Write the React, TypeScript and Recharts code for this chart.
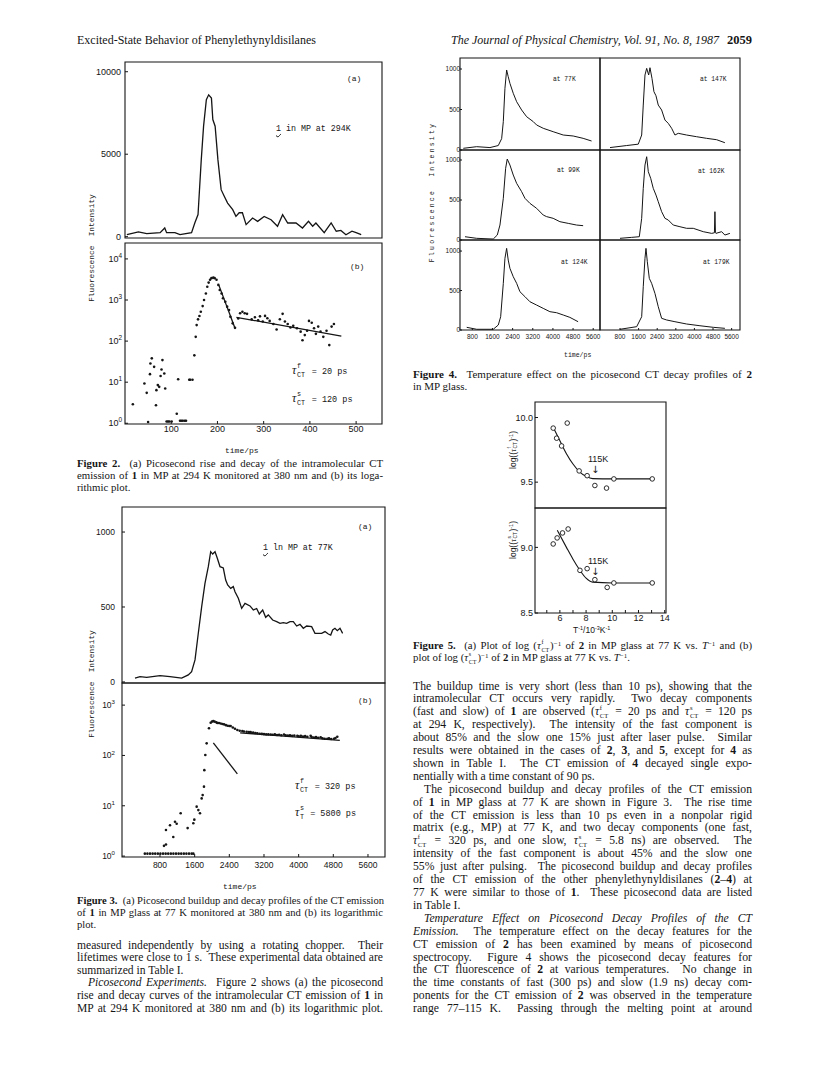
import React from "react";
import { ComposedChart, Line, Scatter, XAxis, YAxis, ReferenceArea } from "recharts";

type Pt = [number, number];

const INK = "#151515";
const SERIF = '"Liberation Serif", "Times New Roman", serif';
const SANS = '"Liberation Sans", Arial, sans-serif';
const MONO = '"Liberation Mono", "DejaVu Sans Mono", monospace';

// ---------- Figure 2: 1 in MP at 294 K ----------
const fig2XTicks = [100, 200, 300, 400, 500];
const fig2LinTicks = [0, 5000, 10000];
const fig2LogTicks = [1, 10, 100, 1000, 10000];
const fig2Trace: Pt[] = [
  [4, 120], [29, 285], [47, 180], [76, 240], [86, 525], [90, 240], [108, 240], [119, 120],
  [144, 240], [151, 830], [158, 1340], [165, 4670], [170, 6700], [176, 8300], [181, 8600],
  [187, 8400], [190, 7100], [195, 6700], [201, 4670], [208, 2850], [215, 2440], [222, 2040],
  [233, 1640], [240, 1230], [247, 1450], [254, 1450], [262, 730], [276, 1130], [287, 930],
  [301, 1230], [316, 1030], [330, 630], [341, 1330], [352, 830], [370, 830], [384, 525],
  [397, 930], [406, 630], [413, 830], [431, 240], [446, 830], [457, 330], [467, 380],
  [478, 120], [491, 330], [500, 240], [511, 120],
];
const fig2Dots: Pt[] = [
  [17, 2.9], [42, 9.3], [47, 5.5], [50, 1.07], [54, 15.7], [55, 28.6], [58, 38], [63, 23.6],
  [67, 2.75], [68, 6.4], [71, 8.5], [74, 7.7], [77, 14.2], [79, 20.4], [81, 34.5], [85, 16.3],
  [87, 7], [90, 1.1], [93, 1.1], [96, 1.1], [101, 1.1], [112, 1.7], [115, 11.8], [119, 1.15],
  [122, 1.15], [125, 1.15], [129, 1.15], [132, 1.15], [139, 11.5], [141, 11.5], [146, 11.5],
  [150, 45], [153, 127], [155, 245], [158, 338], [161, 407], [164, 517], [168, 710],
  [171, 1000], [175, 1440], [178, 2100], [181, 2650], [184, 3100], [187, 3400], [191, 3500],
  [194, 3400], [198, 3100], [202, 2330], [205, 1750], [209, 1440], [212, 1100], [217, 910],
  [221, 690], [225, 570], [228, 390], [233, 270], [238, 210], [245, 355], [249, 475],
  [254, 517], [259, 475], [264, 460], [274, 338], [281, 380], [288, 320], [292, 400],
  [298, 300], [303, 410], [308, 360], [313, 310], [321, 260], [328, 192], [335, 340],
  [341, 460], [346, 300], [352, 260], [358, 215], [364, 235], [372, 205], [380, 170],
  [384, 105], [389, 140], [394, 178], [398, 310], [404, 280], [409, 205], [413, 150],
  [418, 225], [423, 170], [429, 127], [436, 178], [442, 80], [447, 225], [452, 260],
];
const fig2FastFit: Pt[] = [[203, 2300], [238, 205]];
const fig2SlowFit: Pt[] = [[241, 380], [468, 132]];

// ---------- Figure 3: 1 in MP glass at 77 K ----------
const fig3XTicks = [800, 1600, 2400, 3200, 4000, 4800, 5600];
const fig3LinTicks = [0, 500, 1000];
const fig3LogTicks = [1, 10, 100, 1000];
const fig3Trace: Pt[] = [
  [223, 25], [338, 35], [493, 31], [800, 42], [1031, 35], [1300, 25], [1453, 47], [1530, 69],
  [1608, 147], [1684, 325], [1762, 502], [1838, 658], [1915, 769], [1970, 869], [2016, 853],
  [2070, 869], [2123, 825], [2185, 769], [2261, 760], [2316, 680], [2362, 647], [2431, 624],
  [2492, 636], [2531, 602], [2608, 558], [2685, 491], [2762, 524], [2877, 507], [2954, 480],
  [3031, 490], [3092, 453], [3170, 480], [3239, 431], [3300, 447], [3400, 413], [3493, 402],
  [3570, 391], [3646, 395], [3723, 391], [3800, 402], [3877, 402], [3954, 373], [4031, 384],
  [4108, 358], [4185, 373], [4300, 369], [4377, 324], [4454, 324], [4531, 324], [4608, 336],
  [4685, 320], [4740, 313], [4785, 347], [4838, 358], [4892, 342], [4954, 358], [5015, 324],
];
const fig3Dots: Pt[] = [
  [450, 1.12], [510, 1.12], [570, 1.12], [630, 1.12], [690, 1.12], [750, 1.12], [810, 1.12],
  [870, 1.12], [930, 1.12], [990, 1.12], [1050, 1.12], [1110, 1.12], [1170, 1.12], [1230, 1.12],
  [1290, 1.12], [1350, 1.12], [1410, 1.12], [1470, 1.12], [1530, 1.12], [1570, 1.12],
  [892, 1.6], [938, 1.7], [938, 3.3], [1031, 4.1], [1107, 2.4], [1146, 4.8], [1185, 4.4],
  [1277, 7.1], [1438, 3.6], [1569, 4.5], [1592, 5.3], [1646, 9.6], [1685, 8.2], [1723, 7.1],
  [1762, 14], [1785, 16.3], [1815, 24], [1823, 51], [1846, 102], [1877, 174], [1931, 347],
  [1970, 447], [2000, 470], [2030, 480], [2060, 470], [2100, 455], [2123, 440], [2160, 440],
  [2200, 430], [2240, 420], [2277, 415], [2320, 400], [2360, 390], [2400, 385], [2431, 385],
  [2480, 360], [2530, 340], [2585, 320], [2640, 310], [2700, 305], [2738, 300], [2800, 295],
  [2850, 292], [2893, 290], [2950, 285], [3000, 278], [3046, 275], [3100, 270], [3150, 268],
  [3200, 265], [3250, 262], [3300, 262], [3354, 260], [3400, 258], [3450, 262], [3500, 255],
  [3550, 258], [3600, 252], [3662, 260], [3700, 250], [3750, 248], [3800, 252], [3850, 245],
  [3900, 248], [3970, 245], [4000, 240], [4050, 245], [4100, 238], [4150, 242], [4200, 235],
  [4277, 245], [4300, 232], [4350, 228], [4400, 232], [4450, 225], [4508, 230], [4550, 220],
  [4600, 215], [4662, 215], [4700, 218], [4750, 212], [4815, 215], [4850, 222], [4892, 235],
];
const fig3FastFit: Pt[] = [[2031, 178], [2585, 43]];
const fig3SlowFit: Pt[] = [[2650, 282], [4950, 200]];

// ---------- Figure 4: 2 in MP glass, six temperatures ----------
const fig4XTicks = [800, 1600, 2400, 3200, 4000, 4800, 5600];
const fig4YTicks = [0, 500, 1000];
const fig4Temps = ["77K", "147K", "99K", "162K", "124K", "179K"];
const fig4At77: Pt[] = [
  [441, 21], [972, 41], [1500, 30], [1830, 55], [1964, 140], [2030, 350], [2095, 762],
  [2162, 988], [2225, 905], [2293, 823], [2425, 700], [2560, 596], [2758, 494], [2956, 411],
  [3220, 350], [3352, 309], [3615, 268], [4010, 226], [4410, 185], [4805, 173], [5200, 144],
  [5535, 111],
];
const fig4At147: Pt[] = [
  [370, 30], [1087, 55], [1586, 72], [1732, 185], [1800, 555], [1874, 926], [1947, 1008],
  [2033, 926], [2089, 1016], [2175, 885], [2260, 720], [2347, 670], [2445, 555], [2590, 494],
  [2733, 370], [2875, 329], [3020, 268], [3163, 185], [3305, 206], [3665, 185], [4095, 164],
  [4525, 144], [4955, 127], [5310, 90],
];
const fig4At99: Pt[] = [
  [508, 41], [972, 21], [1630, 12], [1790, 62], [1897, 187], [2030, 521], [2122, 896],
  [2186, 1012], [2293, 937], [2425, 812], [2560, 708], [2758, 604], [2890, 521], [3088, 458],
  [3352, 396], [3615, 312], [3750, 292], [4010, 271], [4277, 229], [4608, 208], [4938, 187],
  [5200, 179],
];
const fig4At162: Pt[] = [
  [800, 21], [1302, 33], [1630, 41], [1732, 271], [1800, 646], [1874, 937], [1947, 1041],
  [2017, 854], [2120, 771], [2230, 646], [2347, 562], [2445, 479], [2590, 354], [2733, 271],
  [2875, 250], [3090, 187], [3378, 166], [3665, 146], [3950, 146], [4380, 104], [4740, 83],
  [4860, 90], [4882, 354], [4905, 90], [4925, 83], [5170, 104], [5310, 62], [5525, 83],
];
const fig4At124: Pt[] = [
  [576, 34], [972, 9], [1630, 9], [1830, 63], [1925, 168], [2030, 591], [2095, 908],
  [2162, 1034], [2225, 886], [2293, 781], [2425, 675], [2560, 591], [2690, 485], [2890, 422],
  [3088, 358], [3352, 316], [3615, 274], [3880, 232], [4145, 219], [4410, 190], [4673, 160],
  [5000, 105],
];
const fig4At179: Pt[] = [
  [800, 9], [1517, 42], [1732, 168], [1800, 548], [1874, 908], [1917, 1034], [1975, 865],
  [2060, 654], [2160, 591], [2303, 464], [2445, 295], [2590, 148], [2805, 127], [3163, 105],
  [3665, 76], [4238, 54], [4810, 34], [5310, 21],
];

// ---------- Figure 5: log(1/tau) vs 1/T ----------
const fig5XTicks = [5, 6, 7, 8, 9, 10, 11, 12, 13, 14];
const fig5aYTicks = [9.5, 10.0];
const fig5bYTicks = [8.5, 9.0];
const fig5aPoints: Pt[] = [
  [5.49, 9.918], [5.75, 9.84], [6.13, 9.78], [6.56, 9.957], [7.47, 9.587], [8.08, 9.55],
  [8.67, 9.474], [9.56, 9.454], [10.12, 9.525], [13.05, 9.525],
];
const fig5aCurve: Pt[] = [
  [5.49, 9.925], [6.0, 9.82], [6.5, 9.72], [7.0, 9.64], [7.5, 9.58], [8.0, 9.545],
  [8.5, 9.527], [10.0, 9.525], [13.05, 9.525],
];
const fig5bPoints: Pt[] = [
  [5.49, 9.026], [5.79, 9.072], [6.2, 9.11], [6.63, 9.14], [7.53, 8.825], [8.08, 8.838],
  [8.67, 8.754], [9.61, 8.695], [10.12, 8.729], [13.05, 8.729],
];
const fig5bCurve: Pt[] = [
  [5.8, 9.13], [6.5, 9.0], [7.0, 8.91], [7.5, 8.83], [8.0, 8.765], [8.5, 8.735],
  [10.0, 8.729], [13.05, 8.729],
];

const rows = (pts: Pt[]) => pts.map(([t, v]) => ({ t, v }));

function PowTick(props: any) {
  const { x, y, payload, fs } = props;
  const e = Math.round(Math.log10(payload.value));
  return (
    <text x={x} y={y + fs * 0.35} textAnchor="end" fontSize={fs} fontFamily={SANS} fill={INK}>
      10
      <tspan dy={-fs * 0.45} fontSize={fs * 0.72}>
        {e}
      </tspan>
    </text>
  );
}

type PanelProps = {
  x: number;
  y: number;
  w: number;
  h: number;
  xDomain: [number, number];
  yDomain: [number, number];
  xTicks: number[];
  yTicks: number[];
  showX?: boolean;
  showY?: boolean;
  log?: boolean;
  lines?: Pt[][];
  dots?: Pt[];
  rings?: Pt[];
  smooth?: boolean;
  fs?: number;
  gapX?: number;
  gapY?: number;
  tl?: number;
  lw?: number;
  dotR?: number;
  xFmt?: (v: number) => string;
  yFmt?: (v: number) => string;
};

function Panel(p: PanelProps) {
  const yW = 46;
  const xH = 24;
  const padT = 6;
  const padR = 6;
  const fs = p.fs ?? 9;
  const tl = p.tl ?? 3;
  const font = { fontSize: fs, fill: INK, fontFamily: SANS };
  const dotR = p.dotR ?? 1.2;
  return (
    <div style={{ position: "absolute", left: p.x - yW, top: p.y - padT }}>
      <ComposedChart
        width={yW + p.w + padR}
        height={padT + p.h + xH}
        margin={{ top: padT, right: padR, bottom: 0, left: 0 }}
      >
        <XAxis
          type="number"
          dataKey="t"
          domain={p.xDomain}
          allowDataOverflow
          ticks={p.xTicks}
          interval={0}
          height={xH}
          axisLine={false}
          tickLine={{ stroke: INK }}
          tickSize={-tl}
          tickMargin={tl + (p.gapX ?? 3)}
          tick={p.showX ? font : false}
          tickFormatter={p.xFmt}
        />
        <YAxis
          type="number"
          dataKey="v"
          scale={p.log ? "log" : "linear"}
          domain={p.yDomain}
          allowDataOverflow
          ticks={p.yTicks}
          interval={0}
          width={yW}
          axisLine={false}
          tickLine={{ stroke: INK }}
          tickSize={-tl}
          tickMargin={tl + (p.gapY ?? 4)}
          tick={!p.showY ? false : p.log ? <PowTick fs={fs} /> : font}
          tickFormatter={p.yFmt}
        />
        <ReferenceArea
          x1={p.xDomain[0]}
          x2={p.xDomain[1]}
          y1={p.yDomain[0]}
          y2={p.yDomain[1]}
          fill="none"
          stroke={INK}
          strokeWidth={1.1}
          ifOverflow="visible"
        />
        {(p.lines ?? []).map((l, i) => (
          <Line
            key={i}
            data={rows(l)}
            dataKey="v"
            type={p.smooth ? "monotone" : "linear"}
            dot={false}
            stroke={INK}
            strokeWidth={p.lw ?? 1.1}
            isAnimationActive={false}
          />
        ))}
        {p.dots && (
          <Scatter
            data={rows(p.dots)}
            dataKey="v"
            isAnimationActive={false}
            shape={(s: any) => <circle cx={s.cx} cy={s.cy} r={dotR} fill={INK} />}
          />
        )}
        {p.rings && (
          <Scatter
            data={rows(p.rings)}
            dataKey="v"
            isAnimationActive={false}
            shape={(s: any) => (
              <circle cx={s.cx} cy={s.cy} r={2.3} fill="#fff" stroke={INK} strokeWidth={0.9} />
            )}
          />
        )}
      </ComposedChart>
    </div>
  );
}

// ---------- text helpers ----------
function Note({
  x,
  y,
  size = 8,
  font = MONO,
  children,
}: {
  x: number;
  y: number;
  size?: number;
  font?: string;
  children: React.ReactNode;
}) {
  return (
    <div
      style={{
        position: "absolute",
        left: x,
        top: y - size * 0.6,
        fontSize: size,
        fontFamily: font,
        lineHeight: 1.2,
        whiteSpace: "nowrap",
        color: INK,
      }}
    >
      {children}
    </div>
  );
}

function VLabel({
  x,
  y,
  size,
  spacing = 0,
  font = MONO,
  children,
}: {
  x: number;
  y: number;
  size: number;
  spacing?: number;
  font?: string;
  children: React.ReactNode;
}) {
  return (
    <div
      style={{
        position: "absolute",
        left: x,
        top: y,
        transform: "translate(-50%, -50%) rotate(-90deg)",
        fontSize: size,
        fontFamily: font,
        letterSpacing: spacing,
        whiteSpace: "pre",
        lineHeight: 1,
        color: INK,
      }}
    >
      {children}
    </div>
  );
}

// tau with a stacked superscript and subscript that do not change the line box
function Tau({ sup, sub }: { sup: string; sub: string }) {
  const wide = Math.max(sup.length, sub.length);
  return (
    <span style={{ whiteSpace: "nowrap" }}>
      <span style={{ fontStyle: "italic", fontFamily: SERIF }}>τ</span>
      <span
        style={{
          position: "relative",
          display: "inline-block",
          width: `${0.38 * wide + 0.1}em`,
          height: "0.5em",
          lineHeight: 1,
        }}
      >
        <span style={{ position: "absolute", left: "0.1em", top: "-0.71em", fontSize: "0.56em" }}>{sup}</span>
        <span style={{ position: "absolute", left: "0.1em", top: "0.55em", fontSize: "0.56em" }}>{sub}</span>
      </span>
    </span>
  );
}

const Sup = ({ c }: { c: string }) => (
  <span style={{ fontSize: "0.65em", verticalAlign: "0.5em", lineHeight: 0 }}>{c}</span>
);

// compound numeral with the wavy underline
const Wavy = ({ c }: { c: string }) => (
  <span style={{ textDecoration: "underline wavy", textUnderlineOffset: 2, textDecorationThickness: 1 }}>{c}</span>
);

type TL = { c: React.ReactNode; end?: boolean; ind?: boolean };

function TextBlock({
  x,
  y,
  w,
  step,
  size,
  lines,
}: {
  x: number;
  y: number;
  w: number;
  step: number;
  size: number;
  lines: TL[];
}) {
  return (
    <div
      style={{
        position: "absolute",
        left: x,
        top: y,
        width: w,
        fontFamily: SERIF,
        fontSize: size,
        color: INK,
      }}
    >
      {lines.map((l, i) => (
        <div
          key={i}
          style={{
            height: step,
            lineHeight: `${step}px`,
            whiteSpace: "nowrap",
            textAlign: l.end ? "left" : "justify",
            textAlignLast: l.end ? "left" : "justify",
            textIndent: l.ind ? 11 : 0,
          }}
        >
          {l.c}
        </div>
      ))}
    </div>
  );
}

const num = (v: number) => String(v);
const even = (v: number) => (v % 2 === 0 && v >= 6 ? String(v) : "");

export default function App() {
  const fig4Series = [fig4At77, fig4At147, fig4At99, fig4At162, fig4At124, fig4At179];
  const rowsY = [
    { y: 58, h: 92, d: [0, 1136] as [number, number] },
    { y: 150, h: 90, d: [0, 1125] as [number, number] },
    { y: 240, h: 90, d: [0, 1140] as [number, number] },
  ];
  const cols = [
    { x: 460, d: [310, 5870] as [number, number] },
    { x: 600, d: [-60, 5960] as [number, number] },
  ];
  const tempPos = [
    [553, 80],
    [700, 80],
    [557, 171],
    [698, 172],
    [561, 263],
    [703, 263],
  ];

  return (
    <div
      style={{
        position: "absolute",
        left: 0,
        top: 0,
        width: 821,
        height: 1069,
        background: "#fff",
        overflow: "hidden",
        color: INK,
      }}
    >
      {/* running head */}
      <div style={{ position: "absolute", left: 77, top: 33, fontFamily: SERIF, fontSize: 12, whiteSpace: "nowrap" }}>
        Excited-State Behavior of Phenylethynyldisilanes
      </div>
      <div
        style={{
          position: "absolute",
          right: 69,
          top: 33,
          fontFamily: SERIF,
          fontSize: 12,
          whiteSpace: "nowrap",
          textAlign: "right",
        }}
      >
        <i>The Journal of Physical Chemistry, Vol. 91, No. 8, 1987</i>
        <b style={{ marginLeft: 8, fontSize: 12.5 }}>2059</b>
      </div>

      {/* ===== Figure 2 ===== */}
      <Panel
        x={125}
        y={62}
        w={257}
        h={176}
        xDomain={[0, 556]}
        yDomain={[-80, 10590]}
        xTicks={fig2XTicks}
        yTicks={fig2LinTicks}
        showY
        yFmt={num}
        lines={[fig2Trace]}
        lw={1.3}
      />
      <Panel
        x={125}
        y={243}
        w={257}
        h={181}
        xDomain={[0, 556]}
        yDomain={[0.96, 24400]}
        log
        xTicks={fig2XTicks}
        yTicks={fig2LogTicks}
        showX
        showY
        gapX={2}
        gapY={3}
        xFmt={num}
        dots={fig2Dots}
        dotR={1.3}
        lines={[fig2FastFit, fig2SlowFit]}
        lw={1.3}
      />
      <VLabel x={93} y={248} size={7.8}>
        {"Fluorescence  Intensity"}
      </VLabel>
      <Note x={347} y={79} size={8}>(a)</Note>
      <Note x={276} y={129} size={8.3}>
        <Wavy c="1" /> in MP at 294K
      </Note>
      <Note x={350} y={267} size={8}>(b)</Note>
      <Note x={292} y={368} size={8.5}>
        <span style={{ fontSize: 12 }}>
          <Tau sup="f" sub="CT" />
        </span>{" "}
        = 20 ps
      </Note>
      <Note x={292} y={396} size={8.5}>
        <span style={{ fontSize: 12 }}>
          <Tau sup="s" sub="CT" />
        </span>{" "}
        = 120 ps
      </Note>
      <Note x={225} y={451} size={8}>time/ps</Note>

      <TextBlock
        x={77}
        y={456.7}
        w={306}
        step={12}
        size={10.8}
        lines={[
          { c: <><b>Figure 2.</b>&nbsp; (a) Picosecond rise and decay of the intramolecular CT</> },
          { c: <>emission of <b>1</b> in MP at 294 K monitored at 380 nm and (b) its loga-</> },
          { c: <>rithmic plot.</>, end: true },
        ]}
      />

      {/* ===== Figure 3 ===== */}
      <Panel
        x={122}
        y={507}
        w={263}
        h={176}
        xDomain={[-77, 5993]}
        yDomain={[-7, 1167]}
        xTicks={fig3XTicks}
        yTicks={fig3LinTicks}
        showY
        gapY={7}
        fs={8.5}
        yFmt={num}
        lines={[fig3Trace]}
        lw={1.3}
      />
      <Panel
        x={122}
        y={683}
        w={263}
        h={174}
        xDomain={[-77, 5993]}
        yDomain={[0.96, 2750]}
        log
        xTicks={fig3XTicks}
        yTicks={fig3LogTicks}
        showX
        showY
        gapX={5}
        gapY={7}
        fs={8.5}
        xFmt={num}
        dots={fig3Dots}
        dotR={1.3}
        lines={[fig3FastFit, fig3SlowFit]}
        lw={1.3}
      />
      <VLabel x={93} y={684} size={7.8}>
        {"Fluorescence  Intensity"}
      </VLabel>
      <Note x={358} y={527} size={8}>(a)</Note>
      <Note x={263} y={548} size={8.3}>
        <Wavy c="1" /> ln MP at 77K
      </Note>
      <Note x={358} y={701} size={8}>(b)</Note>
      <Note x={295} y={783} size={8.5}>
        <span style={{ fontSize: 12 }}>
          <Tau sup="f" sub="CT" />
        </span>{" "}
        = 320 ps
      </Note>
      <Note x={295} y={810} size={8.5}>
        <span style={{ fontSize: 12 }}>
          <Tau sup="s" sub="T" />
        </span>{" "}
        = 5800 ps
      </Note>
      <Note x={223} y={887} size={8}>time/ps</Note>

      <TextBlock
        x={77}
        y={895}
        w={306}
        step={12}
        size={10.6}
        lines={[
          { c: <><b>Figure 3.</b>&nbsp; (a) Picosecond buildup and decay profiles of the CT emission</> },
          { c: <>of <b>1</b> in MP glass at 77 K monitored at 380 nm and (b) its logarithmic</> },
          { c: <>plot.</>, end: true },
        ]}
      />
      <TextBlock
        x={77}
        y={939.7}
        w={306}
        step={12.6}
        size={11.6}
        lines={[
          { c: <>measured independently by using a rotating chopper.&nbsp; Their</> },
          { c: <>lifetimes were close to 1 s.&nbsp; These experimental data obtained are</> },
          { c: <>summarized in Table I.</>, end: true },
          { c: <><i>Picosecond Experiments.</i>&nbsp; Figure 2 shows (a) the picosecond</>, ind: true },
          { c: <>rise and decay curves of the intramolecular CT emission of <b>1</b> in</> },
          { c: <>MP at 294 K monitored at 380 nm and (b) its logarithmic plot.</> },
        ]}
      />

      {/* ===== Figure 4 ===== */}
      {fig4Series.map((s, i) => {
        const r = rowsY[Math.floor(i / 2)];
        const c = cols[i % 2];
        const bottom = i >= 4;
        return (
          <Panel
            key={i}
            x={c.x}
            y={r.y}
            w={140}
            h={r.h}
            xDomain={c.d}
            yDomain={r.d}
            xTicks={fig4XTicks}
            yTicks={fig4YTicks}
            showX={bottom}
            showY={i % 2 === 0}
            fs={6.5}
            tl={2}
            gapX={4}
            gapY={0}
            xFmt={num}
            yFmt={num}
            lines={[s]}
            lw={1}
          />
        );
      })}
      {fig4Temps.map((t, i) => (
        <Note key={t} x={tempPos[i][0]} y={tempPos[i][1]} size={6.3}>
          at {t}
        </Note>
      ))}
      <VLabel x={433} y={192} size={6.5} spacing={2.2}>
        {"Fluorescence  Intensity"}
      </VLabel>
      <Note x={564} y={356} size={6.5}>time/ps</Note>
      <TextBlock
        x={413}
        y={368}
        w={339}
        step={12}
        size={11}
        lines={[
          { c: <><b>Figure 4.</b>&nbsp; Temperature effect on the picosecond CT decay profiles of <b>2</b></> },
          { c: <>in MP glass.</>, end: true },
        ]}
      />

      {/* ===== Figure 5 ===== */}
      <Panel
        x={535}
        y={402}
        w={131}
        h={106}
        xDomain={[4.1, 14.1]}
        yDomain={[9.3, 10.12]}
        xTicks={fig5XTicks}
        yTicks={fig5aYTicks}
        showY
        fs={9}
        gapY={2}
        yFmt={(v) => v.toFixed(1)}
        lines={[fig5aCurve]}
        smooth
        lw={1.1}
        rings={fig5aPoints}
      />
      <Panel
        x={535}
        y={508}
        w={131}
        h={105}
        xDomain={[4.1, 14.1]}
        yDomain={[8.5, 9.3]}
        xTicks={fig5XTicks}
        yTicks={fig5bYTicks}
        showX
        showY
        fs={9}
        gapX={2}
        gapY={2}
        xFmt={even}
        yFmt={(v) => v.toFixed(1)}
        lines={[fig5bCurve]}
        smooth
        lw={1.1}
        rings={fig5bPoints}
      />
      <VLabel x={513} y={450} size={8.5} font={SANS}>
        log((<Tau sup="f" sub="CT" />)<Sup c="-1" />)
      </VLabel>
      <VLabel x={513} y={540} size={8.5} font={SANS}>
        log((<Tau sup="s" sub="CT" />)<Sup c="-1" />)
      </VLabel>
      <Note x={588} y={459} size={9} font={SANS}>115K</Note>
      <Note x={591} y={470} size={10} font={'"DejaVu Sans", sans-serif'}>↓</Note>
      <Note x={588} y={561} size={9} font={SANS}>115K</Note>
      <Note x={591} y={572} size={10} font={'"DejaVu Sans", sans-serif'}>↓</Note>
      <Note x={573} y={630} size={8.5} font={SANS}>
        T<Sup c="-1" />/10<Sup c="-3" />K<Sup c="-1" />
      </Note>

      <TextBlock
        x={413}
        y={639}
        w={339}
        step={12}
        size={10.8}
        lines={[
          {
            c: (
              <>
                <b>Figure 5.</b>&nbsp; (a) Plot of log (<Tau sup="f" sub="CT" />)<Sup c="−1" /> of <b>2</b> in MP glass at 77 K vs. <i>T</i>
                <Sup c="−1" /> and (b)
              </>
            ),
          },
          {
            c: (
              <>
                plot of log (<Tau sup="s" sub="CT" />)<Sup c="−1" /> of <b>2</b> in MP glass at 77 K vs. <i>T</i>
                <Sup c="−1" />.
              </>
            ),
            end: true,
          },
        ]}
      />

      <TextBlock
        x={413}
        y={680.5}
        w={339}
        step={12.92}
        size={11.7}
        lines={[
          { c: <>The buildup time is very short (less than 10 ps), showing that the</> },
          { c: <>intramolecular CT occurs very rapidly.&nbsp; Two decay components</> },
          { c: <>(fast and slow) of <b>1</b> are observed (<Tau sup="f" sub="CT" /> = 20 ps and <Tau sup="s" sub="CT" /> = 120 ps</> },
          { c: <>at 294 K, respectively).&nbsp; The intensity of the fast component is</> },
          { c: <>about 85% and the slow one 15% just after laser pulse.&nbsp; Similar</> },
          { c: <>results were obtained in the cases of <b>2</b>, <b>3</b>, and <b>5</b>, except for <b>4</b> as</> },
          { c: <>shown in Table I.&nbsp; The CT emission of <b>4</b> decayed single expo-</> },
          { c: <>nentially with a time constant of 90 ps.</>, end: true },
          { c: <>The picosecond buildup and decay profiles of the CT emission</>, ind: true },
          { c: <>of <b>1</b> in MP glass at 77 K are shown in Figure 3.&nbsp; The rise time</> },
          { c: <>of the CT emission is less than 10 ps even in a nonpolar rigid</> },
          { c: <>matrix (e.g., MP) at 77 K, and two decay components (one fast,</> },
          { c: <><Tau sup="f" sub="CT" /> = 320 ps, and one slow, <Tau sup="s" sub="CT" /> = 5.8 ns) are observed.&nbsp; The</> },
          { c: <>intensity of the fast component is about 45% and the slow one</> },
          { c: <>55% just after pulsing.&nbsp; The picosecond buildup and decay profiles</> },
          { c: <>of the CT emission of the other phenylethynyldisilanes (<b>2</b>–<b>4</b>) at</> },
          { c: <>77 K were similar to those of <b>1</b>.&nbsp; These picosecond data are listed</> },
          { c: <>in Table I.</>, end: true },
          { c: <><i>Temperature Effect on Picosecond Decay Profiles of the CT</i></>, ind: true },
          { c: <><i>Emission.</i>&nbsp; The temperature effect on the decay features for the</> },
          { c: <>CT emission of <b>2</b> has been examined by means of picosecond</> },
          { c: <>spectrocopy.&nbsp; Figure 4 shows the picosecond decay features for</> },
          { c: <>the CT fluorescence of <b>2</b> at various temperatures.&nbsp; No change in</> },
          { c: <>the time constants of fast (300 ps) and slow (1.9 ns) decay com-</> },
          { c: <>ponents for the CT emission of <b>2</b> was observed in the temperature</> },
          { c: <>range 77–115 K.&nbsp; Passing through the melting point at around</> },
        ]}
      />
    </div>
  );
}
